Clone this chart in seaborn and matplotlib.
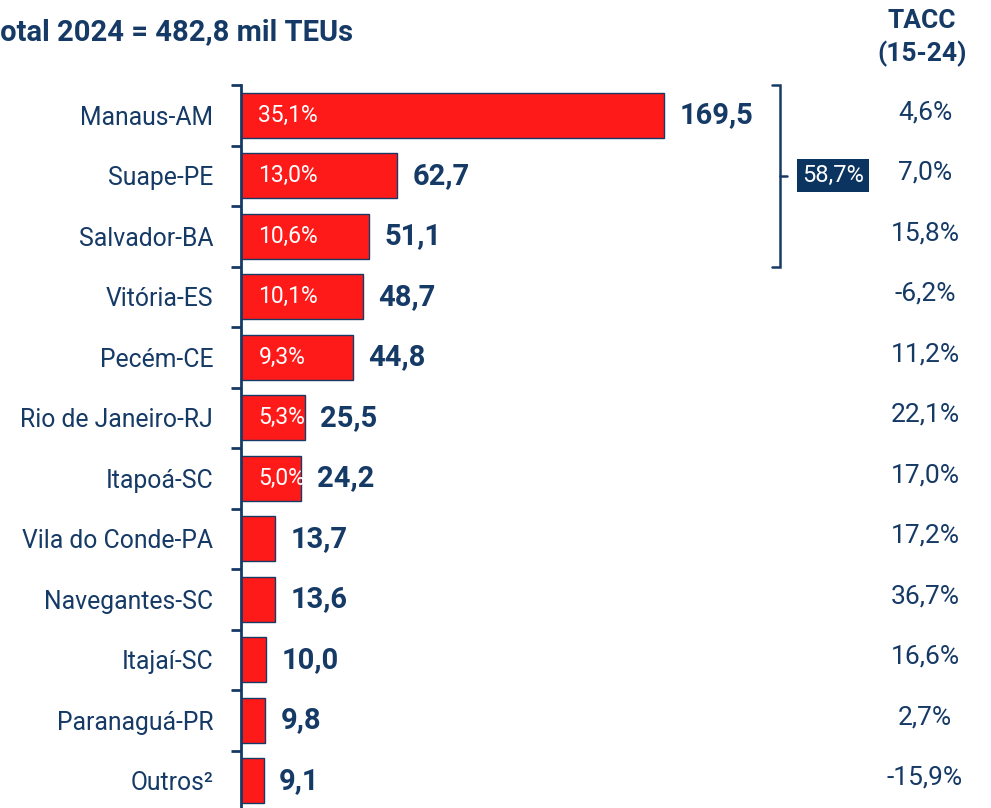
import matplotlib
matplotlib.use("Agg")
import matplotlib.pyplot as plt
import matplotlib.transforms as mtrans
import seaborn as sns
import pandas as pd

# ---------------------------------------------------------------------------
# Data
# ---------------------------------------------------------------------------
ports = ["Manaus-AM", "Suape-PE", "Salvador-BA", "Vitória-ES", "Pecém-CE",
         "Rio de Janeiro-RJ", "Itapoá-SC", "Vila do Conde-PA", "Navegantes-SC",
         "Itajaí-SC", "Paranaguá-PR", "Outros²"]
teus = [169.5, 62.7, 51.1, 48.7, 44.8, 25.5, 24.2, 13.7, 13.6, 10.0, 9.8, 9.1]
shares = ["35,1%", "13,0%", "10,6%", "10,1%", "9,3%", "5,3%", "5,0%"]
tacc = ["4,6%", "7,0%", "15,8%", "-6,2%", "11,2%", "22,1%", "17,0%",
        "17,2%", "36,7%", "16,6%", "2,7%", "-15,9%"]
top3_share = "58,7%"
title = "Total 2024 = 482,8 mil TEUs"
tacc_header = "TACC\n(15-24)"

RED = "#FF1A1A"
NAVY = "#163A66"
BOX = "#0B3560"

sns.set_style("white")
plt.rcParams["font.family"] = ["Roboto", "DejaVu Sans"]

df = pd.DataFrame({"port": ports, "teus": teus})

fig = plt.figure(figsize=(9.91, 8.08), dpi=100)
W, H = 991, 808
ax = fig.add_axes([241 / W, -3 / H, 750 / W, 726 / H])

sns.barplot(data=df, x="teus", y="port", color=RED, edgecolor=NAVY,
            linewidth=1.0, width=0.74, saturation=1, ax=ax)

ax.set_xlim(0, 300.5)
ax.set_ylim(len(ports) - 0.5, -0.5)
ax.set_xlabel("")
ax.set_ylabel("")
ax.set_xticks([])

# Category labels at the centres, tick marks at the row boundaries
ax.tick_params(axis="y", which="major", left=False, length=0, pad=20,
               labelsize=17.8, labelcolor=NAVY)
ax.set_yticks([i - 0.5 for i in range(len(ports) + 1)], minor=True)
ax.tick_params(axis="y", which="minor", left=True, length=7, width=2,
               color=NAVY, direction="out")

for side in ["top", "right", "bottom"]:
    ax.spines[side].set_visible(False)
ax.spines["left"].set_color(NAVY)
ax.spines["left"].set_linewidth(2)

# Value labels and in-bar shares
for i, v in enumerate(teus):
    ax.text(v + 6.2, i, f"{v:.1f}".replace(".", ","), ha="left", va="center",
            fontsize=21, fontweight="bold", color=NAVY)
for i, s in enumerate(shares):
    ax.text(7, i, s, ha="left", va="center", fontsize=16.5, color="white")

# TACC column, placed in figure x and data y
bt = mtrans.blended_transform_factory(fig.transFigure, ax.transData)
for i, t in enumerate(tacc):
    ax.text(925 / W, i - 0.05, t, transform=bt, ha="center", va="center",
            fontsize=19, color=NAVY, clip_on=False)

fig.text(922 / W, 1 - 38 / H, tacc_header, ha="center", va="center",
         fontsize=19, fontweight="bold", color=NAVY, linespacing=1.35)

# Title, partly cut off on the left as in the reference
fig.text(353 / W, 1 - 32 / H, title, ha="right", va="center",
         fontsize=21, fontweight="bold", color=NAVY)

# Bracket around the top three ports
bx0, bx1 = 772 / W, 780 / W
ax.plot([bx0, bx1, bx1, bx0], [-0.5, -0.5, 2.5, 2.5], transform=bt,
        color=NAVY, lw=1.8, clip_on=False, solid_joinstyle="miter")
ax.plot([bx1, 787 / W], [1, 1], transform=bt, color=NAVY, lw=1.8,
        clip_on=False)
ax.text(833 / W, 1, top3_share, transform=bt, ha="center", va="center",
        fontsize=17, color="white", clip_on=False,
        bbox=dict(boxstyle="square,pad=0.22", facecolor=BOX, edgecolor="none"))

fig.savefig("out.png", dpi=100)
plt.close(fig)
